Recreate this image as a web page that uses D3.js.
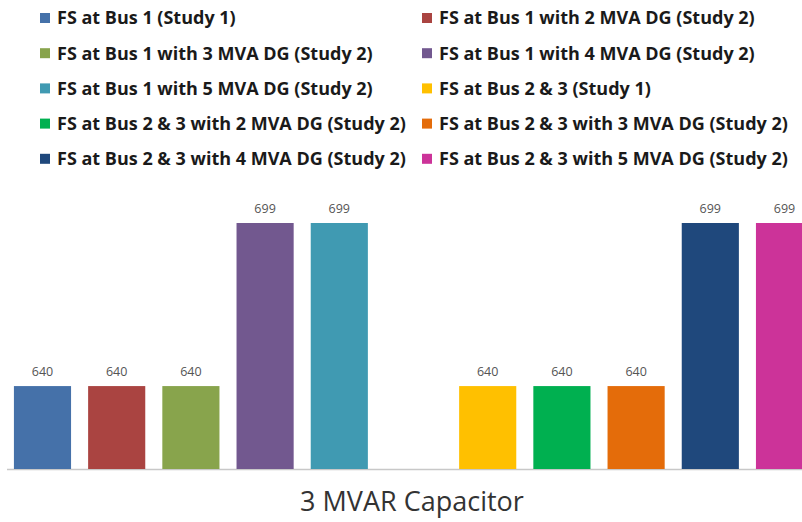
<!DOCTYPE html>
<html><head><meta charset="utf-8">
<script src="https://cdn.jsdelivr.net/npm/d3@7"></script>
<style>body{margin:0;background:#fff}svg{display:block}</style>
</head><body><svg id="c" width="802" height="522"></svg>
<script>
const series = [
  "FS at Bus 1 (Study 1)",
  "FS at Bus 1 with 2 MVA DG (Study 2)",
  "FS at Bus 1 with 3 MVA DG (Study 2)",
  "FS at Bus 1 with 4 MVA DG (Study 2)",
  "FS at Bus 1 with 5 MVA DG (Study 2)",
  "FS at Bus 2 & 3 (Study 1)",
  "FS at Bus 2 & 3 with 2 MVA DG (Study 2)",
  "FS at Bus 2 & 3 with 3 MVA DG (Study 2)",
  "FS at Bus 2 & 3 with 4 MVA DG (Study 2)",
  "FS at Bus 2 & 3 with 5 MVA DG (Study 2)"
];
const values = [640, 640, 640, 699, 699, 640, 640, 640, 699, 699];
const colors = ["#4571A9","#AA4441","#88A44C","#72588F","#409AB2","#FFC000","#00B050","#E46C0A","#1F487C","#CC3399"];
const category = "3 MVAR Capacitor";
// slot order: Bus 1 group, an empty slot, Bus 2 & 3 group
const slots = [0,1,2,3,4,"gap",5,6,7,8,9];

const svg = d3.select("#c");
const x = d3.scaleBand().domain(slots.map(String)).range([6.5, 820.5]).paddingInner(0.23).paddingOuter(0.1);
const y = d3.scaleLinear().domain([610, 699]).range([469, 223]);

// legend
const leg = svg.append("g");
series.forEach((s, i) => {
  const col = i % 2, row = Math.floor(i / 2);
  const gx = col === 0 ? 40 : 422, gy = 18 + row * 35.2;
  leg.append("rect").attr("x", gx).attr("y", gy - 5).attr("width", 10).attr("height", 10).attr("fill", colors[i]);
  leg.append("text").attr("x", gx + 17).attr("y", gy).attr("dy", "0.35em")
    .attr("font-family", "'Open Sans', sans-serif").attr("font-weight", "bold")
    .attr("font-size", 18).attr("fill", "#1a1a1a").text(s);
});

// axis baseline
svg.append("line").attr("x1", 7).attr("x2", 802).attr("y1", 469.5).attr("y2", 469.5)
  .attr("stroke", "#c8c8c8").attr("stroke-width", 1.5);

// bars
series.forEach((s, i) => {
  const bx = x(String(i));
  svg.append("rect").attr("x", bx).attr("y", y(values[i])).attr("width", x.bandwidth())
    .attr("height", y(610) - y(values[i])).attr("fill", colors[i]);
  svg.append("text").attr("x", bx + x.bandwidth() / 2).attr("y", y(values[i]) - 10)
    .attr("text-anchor", "middle").attr("font-family", "'Open Sans', sans-serif")
    .attr("font-size", 12.5).attr("fill", "#555").text(values[i]);
});

svg.append("text").attr("x", 412).attr("y", 511).attr("text-anchor", "middle")
  .attr("font-family", "'Open Sans', sans-serif").attr("font-size", 27).attr("fill", "#333").text(category);
</script></body></html>
